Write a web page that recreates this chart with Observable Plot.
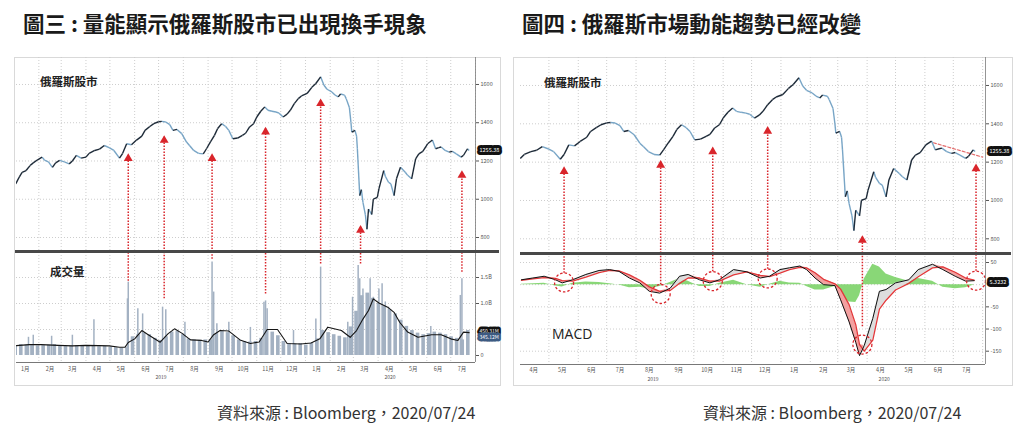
<!DOCTYPE html>
<html><head><meta charset="utf-8">
<script src="https://cdn.jsdelivr.net/npm/d3@7"></script>
<script src="https://cdn.jsdelivr.net/npm/@observablehq/plot@0.6"></script>
<style>
body{margin:0;background:#fff;font-family:"Noto Sans CJK TC","Noto Sans",sans-serif;}
#root{position:relative;width:1024px;height:435px;overflow:hidden;background:#fff;}
.abs{position:absolute;line-height:1;}
.title{font-size:21.5px;font-weight:700;color:#1a1a1a;white-space:nowrap;}
.caption{font-size:16px;color:#333;white-space:nowrap;}
.panel{border:1px solid #d9d9d9;box-sizing:border-box;}
.sep{height:3px;background:#484848;}
.lab{font-weight:700;color:#222;font-size:11.5px;white-space:nowrap;}
svg{overflow:visible;}
</style></head><body><div id="root"></div>
<script>
// ---------------- DATA ----------------
const priceDates = ["2019-01-03","2019-01-08","2019-01-11","2019-01-16","2019-01-21","2019-01-25","2019-01-30","2019-02-05","2019-02-08","2019-02-13","2019-02-18","2019-02-22","2019-02-27","2019-03-05","2019-03-11","2019-03-15","2019-03-20","2019-03-26","2019-04-01","2019-04-05","2019-04-12","2019-04-18","2019-04-24","2019-04-30","2019-05-06","2019-05-13","2019-05-17","2019-05-22","2019-05-28","2019-06-03","2019-06-10","2019-06-14","2019-06-20","2019-06-25","2019-07-01","2019-07-05","2019-07-10","2019-07-15","2019-07-19","2019-07-24","2019-07-30","2019-08-05","2019-08-09","2019-08-14","2019-08-20","2019-08-26","2019-08-30","2019-09-04","2019-09-09","2019-09-13","2019-09-18","2019-09-23","2019-09-27","2019-10-02","2019-10-08","2019-10-14","2019-10-18","2019-10-23","2019-10-28","2019-11-01","2019-11-06","2019-11-11","2019-11-15","2019-11-20","2019-11-25","2019-11-29","2019-12-04","2019-12-09","2019-12-13","2019-12-18","2019-12-23","2019-12-27","2020-01-03","2020-01-09","2020-01-14","2020-01-20","2020-01-24","2020-01-28","2020-02-03","2020-02-07","2020-02-11","2020-02-14","2020-02-19","2020-02-21","2020-02-25","2020-02-27","2020-02-28","2020-03-03","2020-03-05","2020-03-06","2020-03-09","2020-03-11","2020-03-13","2020-03-16","2020-03-18","2020-03-20","2020-03-24","2020-03-26","2020-03-31","2020-04-02","2020-04-08","2020-04-10","2020-04-14","2020-04-17","2020-04-21","2020-04-24","2020-04-29","2020-05-05","2020-05-08","2020-05-13","2020-05-18","2020-05-22","2020-05-27","2020-06-02","2020-06-08","2020-06-12","2020-06-16","2020-06-19","2020-06-24","2020-06-29","2020-07-03","2020-07-08","2020-07-14","2020-07-17","2020-07-22","2020-07-24"];
const priceValues = [1080,1120,1141,1150,1176,1190,1205,1220,1205,1195,1167,1190,1203,1195,1185,1200,1229,1215,1220,1240,1255,1262,1281,1270,1255,1215,1240,1290,1285,1308,1330,1360,1380,1395,1405,1407,1404,1390,1360,1365,1343,1299,1280,1255,1240,1237,1264,1300,1334,1370,1395,1380,1360,1316,1320,1334,1345,1378,1395,1430,1460,1483,1465,1460,1456,1450,1430,1445,1465,1500,1526,1540,1553,1585,1605,1640,1597,1575,1561,1545,1535,1550,1544,1526,1480,1400,1351,1360,1330,1264,1019,1050,984,920,843,949,920,1001,1010,1054,1150,1120,1089,1080,1019,1107,1167,1141,1125,1107,1211,1237,1250,1290,1310,1264,1270,1273,1255,1246,1250,1237,1220,1230,1264,1255];
const lastPriceLabel = "1255.38";

const volWeekFirst = "2018-12-31"; // Monday of first weekly bar
const volWeekly = [180,210,200,190,185, 190,200,210,180, 170,180,190,175, 180,190,170,175,160, 150,140,150,360, 400,430,400,330, 290,360,450,470,400, 320,300,290,300, 300,420,460,440,380, 300,270,260,270, 330,480,450,380, 270,230,220,230,
  200,240,320,480,440, 400,370,340,550, 850,1150,1200,1100,1000, 950,880,800,680, 560,480,430,400, 420,450,430,400,360, 330,300,480];
const spikeDates = ["2019-01-19","2019-01-25","2019-02-17","2019-03-15","2019-04-11","2019-05-23","2019-05-24","2019-06-05","2019-06-11","2019-07-06","2019-07-10","2019-08-03","2019-09-06","2019-09-08","2019-09-12","2019-09-27","2019-10-24","2019-11-10","2019-11-12","2019-11-14","2019-12-17","2020-01-14","2020-01-20","2020-02-23","2020-02-29","2020-03-07","2020-03-09","2020-03-13","2020-03-20","2020-03-22","2020-03-26","2020-04-02","2020-04-06","2020-04-10","2020-04-14","2020-06-06","2020-07-13","2020-07-15"];
const spikeValues = [350,390,370,390,690,1090,1410,900,800,930,880,640,1800,1220,610,640,540,1025,1050,900,480,700,1700,640,1120,1730,1475,1280,1185,1475,1120,1280,1380,1030,930,560,1155,1475];
const maDates = ["2019-01-04","2019-01-20","2019-02-04","2019-02-25","2019-03-15","2019-04-01","2019-04-17","2019-04-30","2019-05-13","2019-05-20","2019-05-24","2019-06-01","2019-06-10","2019-06-18","2019-07-03","2019-07-13","2019-07-21","2019-07-30","2019-08-10","2019-08-24","2019-09-01","2019-09-08","2019-09-16","2019-09-27","2019-10-11","2019-10-24","2019-11-04","2019-11-14","2019-11-27","2019-12-09","2019-12-26","2020-01-08","2020-01-19","2020-01-29","2020-02-15","2020-02-26","2020-03-05","2020-03-13","2020-03-20","2020-03-26","2020-04-02","2020-04-13","2020-04-21","2020-04-28","2020-05-08","2020-05-21","2020-06-07","2020-06-19","2020-07-01","2020-07-10","2020-07-17","2020-07-24"];
const maValues = [190,210,210,195,185,195,190,185,160,160,250,320,480,400,256,420,513,430,300,290,260,400,480,470,300,230,260,500,500,230,220,240,320,545,480,350,480,700,865,1090,1010,930,830,640,450,350,400,400,320,290,450,440];
const volBoxLabels = ["450.31M","345.12M"];
const volBoxValues = [462,345];

const macdDates = ["2019-04-02","2019-04-14","2019-04-26","2019-05-08","2019-05-15","2019-05-26","2019-06-09","2019-06-23","2019-07-04","2019-07-14","2019-07-25","2019-08-05","2019-08-15","2019-08-26","2019-09-06","2019-09-16","2019-09-25","2019-10-07","2019-10-18","2019-10-28","2019-11-12","2019-11-26","2019-12-10","2019-12-20","2019-12-31","2020-01-10","2020-01-21","2020-01-28","2020-02-06","2020-02-15","2020-02-27","2020-03-04","2020-03-13","2020-03-20","2020-03-24","2020-03-29","2020-04-07","2020-04-14","2020-04-21","2020-05-01","2020-05-15","2020-05-25","2020-06-09","2020-06-20","2020-07-03","2020-07-14","2020-07-23"];
const macdValues = [11,15,19,11,4,11,23,32,34,30,15,4,-15,-19,-8,19,23,11,4,11,34,29,15,19,34,38,42,34,15,0,-2,-34,-84,-130,-160,-137,-76,-15,-11,4,11,34,46,34,19,8,9];
const signalValues = [10,13,16,14,9,8,17,27,32,31,22,10,-5,-15,-13,3,15,15,8,8,22,29,21,18,26,34,39,38,27,12,2,-10,-45,-90,-135,-150,-125,-55,-35,-12,3,18,38,40,28,15,10];
const histValues = [1,2,3,-3,-5,3,6,5,2,-1,-7,-6,-10,-4,5,14,8,-4,-4,3,10,0,-6,1,8,4,3,-4,-12,-12,-4,-24,-39,-40,-25,13,46,40,24,16,8,14,8,-6,-9,-7,-1];
const lastMacdLabel = "5.3232";
const lastMacdValue = 5.3;

const leftArrowDates = ["2019-05-24","2019-07-08","2019-09-06","2019-11-12","2020-01-20","2020-03-10","2020-07-15"];
const leftArrowTops = [1229,1324,1229,1368,1516,854,1141];      // price units
const leftArrowBottoms = [1430,1090,1850,1185,1760,1760,1600];  // volume units (M)

const rightMarkDates = ["2019-05-17","2019-08-27","2019-10-21","2019-12-18","2020-03-27","2020-07-25"];
const rightArrowTops = [1167,1200,1270,1377,808,1182];          // price units
const rightArrowBottoms = [26,0,29,35,-95,30];                  // MACD units
const circleValues = [5,-21,8,14,-135,9];                       // MACD units

const trendDates = ["2020-06-10","2020-08-01"];
const trendValues = [1301,1226];

const priceTicks = [800,1000,1200,1400,1600];
const volTicks = [0,1000,1500];
const volTickLabels = ["0","1.0B","1.5B"];
const volGrid = [500,1000,1500];
const macdTicks = [50,-50,-100,-150];
const macdGrid = [50,0,-50,-100,-150];
const monthNames = ["1月","2月","3月","4月","5月","6月","7月","8月","9月","10月","11月","12月"];
const yearNames = ["2019","2020"];
const leftYearDates = ["2019-07-04","2020-04-16"];
const rightYearDates = ["2019-08-19","2020-04-19"];

// ---------------- BUILD ----------------
const P = d3.utcParse("%Y-%m-%d");
const RED = "#d9252b", GRID = "#cdcdcd", VOL = "#a3b1c2";
const FONT = "'Noto Sans CJK TC','Noto Sans',sans-serif";
const price = priceDates.map((d,i)=>({date:P(d), v:priceValues[i]}));
const segs = price.slice(1).map((d,i)=>({x1:price[i].date,y1:price[i].v,x2:d.date,y2:d.v,up:d.v>=price[i].v}));
const volWeeks = volWeekly.map((v,i)=>{const s=d3.utcMonday.offset(P(volWeekFirst),i);return {start:s,end:d3.utcDay.offset(s,6),v};});
const spikes = spikeDates.map((d,i)=>({date:P(d),v:spikeValues[i]}));
const ma = maDates.map((d,i)=>({date:P(d),v:maValues[i]}));
const macd = macdDates.map((d,i)=>({date:P(d),m:macdValues[i],s:signalValues[i],h:histValues[i]}));
const leftArrows = leftArrowDates.map((d,i)=>({date:P(d),top:leftArrowTops[i],bottom:leftArrowBottoms[i]}));
const rightArrows = rightMarkDates.map((d,i)=>({date:P(d),top:rightArrowTops[i],bottom:rightArrowBottoms[i],c:circleValues[i]}));
const trend = trendDates.map((d,i)=>({date:P(d),v:trendValues[i]}));
const monthMids = (a,b)=>d3.utcMonth.range(P(a),P(b)).map(d=>({date:d3.utcDay.offset(d,14),label:monthNames[d.getUTCMonth()]}));
const monthStarts = (dom)=>d3.utcMonth.range(dom[0],d3.utcDay.offset(dom[1],1)).filter(d=>d>dom[0]);

const leftX = [P("2019-01-04"), P("2020-08-01")];
const rightX = [P("2019-04-01"), P("2020-08-04")];
const style = {fontFamily:FONT, color:"#555", background:"transparent", overflow:"visible"};

function pricePlot(o){
  return Plot.plot({
    width:o.width, height:o.height, marginLeft:o.ml, marginRight:o.mr, marginTop:0, marginBottom:0, style,
    x:{type:"utc", domain:o.xd, axis:null},
    y:{domain:o.yd, axis:null},
    marks:[
      Plot.ruleX(monthStarts(o.xd), {stroke:GRID, strokeDasharray:"1,2"}),
      Plot.ruleY(priceTicks, {stroke:GRID, strokeDasharray:"1,2"}),
      o.trend ? Plot.line(trend, {x:"date", y:"v", stroke:"#e46b6b", strokeWidth:1.2, strokeDasharray:"3,2"}) : null,
      Plot.link(segs.filter(d=>!d.up), {x1:"x1",y1:"y1",x2:"x2",y2:"y2", stroke:"#78a5c6", strokeWidth:1.4, clip:true}),
      Plot.link(segs.filter(d=>d.up), {x1:"x1",y1:"y1",x2:"x2",y2:"y2", stroke:"#1d2a38", strokeWidth:1.4, clip:true}),
      Plot.ruleX(o.arrows, {x:"date", y1:o.yd[0], y2:"top", stroke:RED, strokeWidth:1.5, strokeDasharray:"1.5,1.5"}),
      Plot.dot(o.arrows, {x:"date", y:"top", symbol:"triangle", r:3.3, fill:RED, stroke:"none", dy:3}),
      Plot.ruleX([o.xd[1]], {stroke:"#7a7a7a", strokeWidth:0.8}),
      Plot.axisY({ticks:priceTicks, anchor:"right", tickSize:3, tickPadding:2, fontSize:5.5, label:null, tickFormat:d=>String(d)}),
      Plot.text([price[price.length-1]], {x:()=>o.xd[1], y:"v", text:()=>lastPriceLabel, textAnchor:"start", dx:4, fontSize:5.5, fill:"white", stroke:"#111", strokeWidth:6, paintOrder:"stroke", strokeLinejoin:"round"})
    ].filter(Boolean)
  });
}

function monthAxis(xd, a, b, yb, yearDates, dy1, dy2){
  return [
    Plot.ruleY([yb], {stroke:"#555", strokeWidth:0.8}),
    Plot.text(monthMids(a,b), {x:"date", y:()=>yb, text:"label", dy:dy1, fontSize:5.5, fill:"#555"}),
    Plot.text(yearDates.map((d,i)=>({date:P(d),t:yearNames[i]})), {x:"date", y:()=>yb, text:"t", dy:dy2, fontSize:5, fill:"#555"})
  ];
}

const volYD = [-134.6, 1981];
const volPlot = Plot.plot({
  width:486, height:133, marginLeft:2, marginRight:25, marginTop:0, marginBottom:23, style,
  x:{type:"utc", domain:leftX, axis:null},
  y:{domain:volYD, axis:null},
  marks:[
    Plot.ruleX(monthStarts(leftX), {stroke:GRID, strokeDasharray:"1,2"}),
    Plot.ruleY(volGrid, {stroke:GRID, strokeDasharray:"1,2"}),
    Plot.rect(volWeeks, {x1:"start", x2:"end", y1:0, y2:"v", fill:VOL, insetLeft:0.6, insetRight:0.6, clip:true}),
    Plot.ruleX(spikes, {x:"date", y1:0, y2:"v", stroke:VOL, strokeWidth:1.5}),
    Plot.line(ma, {x:"date", y:"v", stroke:"#151515", strokeWidth:1.1}),
    Plot.ruleX(leftArrows, {x:"date", y1:"bottom", y2:volYD[1], stroke:RED, strokeWidth:1.5, strokeDasharray:"1.5,1.5"}),
    Plot.ruleX([leftX[1]], {stroke:"#7a7a7a", strokeWidth:0.8}),
    Plot.axisY({ticks:volTicks, anchor:"right", tickSize:3, tickPadding:2, fontSize:5.5, label:null, tickFormat:(d)=>volTickLabels[volTicks.indexOf(d)]}),
    Plot.text(volBoxValues.map((v,i)=>({v,t:volBoxLabels[i]})), {x:()=>leftX[1], y:"v", text:"t", textAnchor:"start", dx:4, fontSize:5, fill:"white", stroke:(d,i)=>i===0?"#111":"#3d5b82", strokeWidth:5, paintOrder:"stroke", strokeLinejoin:"round"}),
    ...monthAxis(leftX, "2019-01-01", "2020-08-01", volYD[0], leftYearDates, 7, 15)
  ]
});

const macdYD = [-180, 70.3];
const macdPlot = Plot.plot({
  width:499, height:132, marginLeft:7, marginRight:27, marginTop:0, marginBottom:21, style,
  x:{type:"utc", domain:rightX, axis:null},
  y:{domain:macdYD, axis:null},
  marks:[
    Plot.ruleX(monthStarts(rightX), {stroke:GRID, strokeDasharray:"1,2"}),
    Plot.ruleY(macdGrid, {stroke:GRID, strokeDasharray:"1,2"}),
    Plot.areaY(macd, {x:"date", y1:0, y2:"h", fill:"#74d05f", fillOpacity:0.85}),
    Plot.areaY(macd, {x:"date", y1:"m", y2:d=>Math.max(d.m,d.s), fill:"#f3a0a0"}),
    Plot.areaY(macd, {x:"date", y1:"m", y2:d=>Math.min(d.m,d.s), fill:"#dddddd"}),
    Plot.line(macd, {x:"date", y:"s", stroke:"#e2383a", strokeWidth:1.3}),
    Plot.line(macd, {x:"date", y:"m", stroke:"#111", strokeWidth:1}),
    Plot.ruleX(rightArrows, {x:"date", y1:"bottom", y2:macdYD[1], stroke:RED, strokeWidth:1.5, strokeDasharray:"1.5,1.5"}),
    Plot.dot(rightArrows, {x:"date", y:"c", r:9.5, stroke:RED, strokeWidth:1.3, strokeDasharray:"2.5,2", fill:"none"}),
    Plot.ruleX([rightX[1]], {stroke:"#7a7a7a", strokeWidth:0.8}),
    Plot.axisY({ticks:macdTicks, anchor:"right", tickSize:3, tickPadding:2, fontSize:5.5, label:null, tickFormat:d=>String(d)}),
    Plot.text([{v:lastMacdValue}], {x:()=>rightX[1], y:"v", text:()=>lastMacdLabel, textAnchor:"start", dx:4, fontSize:5.5, fill:"white", stroke:"#111", strokeWidth:6, paintOrder:"stroke", strokeLinejoin:"round"}),
    ...monthAxis(rightX, "2019-04-01", "2020-08-01", macdYD[0], rightYearDates, 6, 14.5)
  ]
});

const leftPrice = pricePlot({width:486, height:195, ml:2, mr:25, xd:leftX, yd:[721.6,1741], arrows:leftArrows, trend:false});
const rightPrice = pricePlot({width:499, height:196, ml:7, mr:27, xd:rightX, yd:[723.3,1746], arrows:rightArrows.map(d=>({date:d.date,top:d.top})), trend:true});

// ---------------- LAYOUT ----------------
const root = document.getElementById("root");
function place(el, x, y, cls){ const d=document.createElement("div"); d.className="abs "+(cls||""); d.style.left=x+"px"; d.style.top=y+"px"; if (typeof el==="string") d.textContent=el; else d.appendChild(el); root.appendChild(d); return d; }
const p1 = place("",14,57,"panel"); p1.style.width="487px"; p1.style.height="329px";
const p2 = place("",513,57,"panel"); p2.style.width="500px"; p2.style.height="329px";
place(leftPrice,14,57);
place(volPlot,14,252);
place(rightPrice,513,57);
place(macdPlot,513,253);
const s1 = place("",15,250,"sep"); s1.style.width="484px";
const s2 = place("",520,252,"sep"); s2.style.width="491px";
place("圖三 : 量能顯示俄羅斯股市已出現換手現象",23,12,"title");
place("圖四 : 俄羅斯市場動能趨勢已經改變",522,12,"title");
place("俄羅斯股市",40,76,"lab");
place("俄羅斯股市",544,77,"lab");
place("成交量",50,266,"lab");
const m = place("MACD",552,327,""); m.style.fontFamily="'Open Sans',sans-serif"; m.style.fontSize="14px"; m.style.color="#222";
place("資料來源 : Bloomberg，2020/07/24",217,404,"caption");
place("資料來源 : Bloomberg，2020/07/24",703,404,"caption");
</script></body></html>
